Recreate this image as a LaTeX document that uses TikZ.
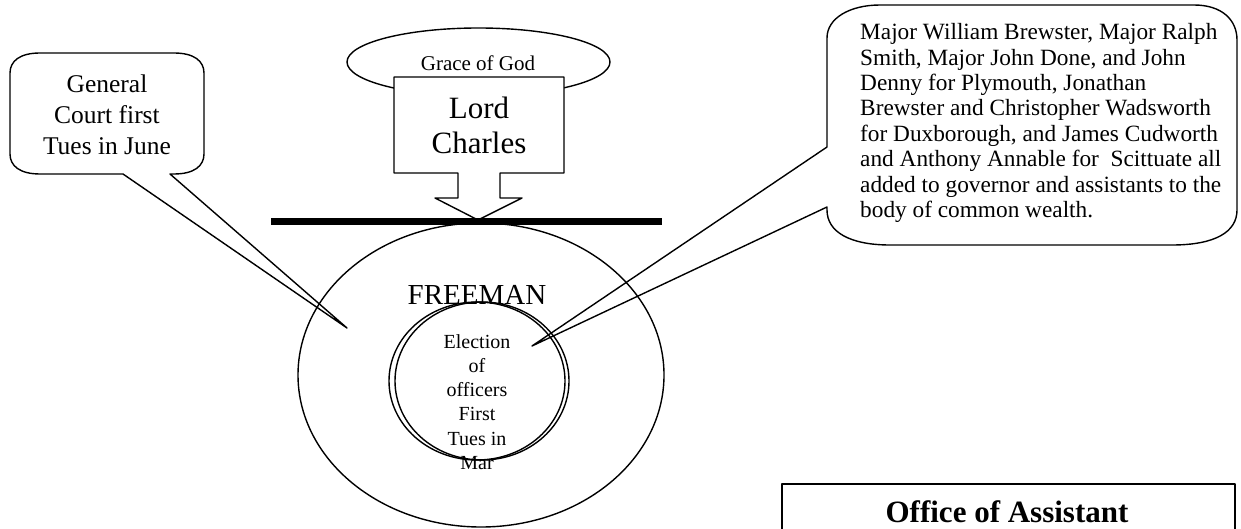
\documentclass[tikz,border=0pt]{standalone}
\usepackage{fontspec}
\setmainfont{Liberation Serif}
\usetikzlibrary{shapes.geometric}
\begin{document}
\begin{tikzpicture}[x=1pt,y=-1pt,line join=round,
  shapeline/.style={line width=1.4pt},
  ell/.style={ellipse,draw,line width=1.4pt,inner sep=0pt},
  txt/.style={inner sep=0pt,align=center}]
\useasboundingbox (0,0) rectangle (1241,529);
\clip (0,0) rectangle (1241,529);

% outer ellipse and inner circles
\node[ell,minimum width=366pt,minimum height=304pt] (freemanell) at (481,375) {};
\node[txt,font=\fontsize{29}{32}\selectfont] (freeman) at (477,295) {FREEMAN};
\node[ell,minimum width=176pt,minimum height=158pt] (inner1) at (477,381) {};
\node[ell,minimum width=174pt,minimum height=158pt] (inner2) at (482,381) {};
\node[txt,font=\fontsize{20}{24.2}\selectfont] (election) at (477,402)
  {Election\\of\\officers\\First\\Tues in\\Mar};

% Grace of God ellipse
\node[ell,minimum width=263pt,minimum height=68pt] (grace) at (478.5,62) {};
\node[txt,font=\fontsize{21}{24}\selectfont] (gracet) at (478,63) {Grace of God};

% Lord Charles arrow box
\coordinate (lctip) at (478,220);
\draw[shapeline,fill=white] (394,77) -- (564,77) -- (564,173) -- (500,173) -- (500,198)
  -- (522,198) -- (lctip) -- (435,198) -- (458,198) -- (458,173) -- (394,173) -- cycle;
\node[txt,font=\fontsize{31}{35}\selectfont] (lord) at (479,125) {Lord\\Charles};

% bar
\coordinate (barL) at (271,221.5);
\coordinate (barR) at (662,221.5);
\draw[line width=7pt] (barL) -- (barR);

% left callout
\coordinate (gctip) at (347,328);
\draw[shapeline] (10,73) .. controls (10,61) and (20,53) .. (40,53) -- (174,53)
  .. controls (194,53) and (204,61) .. (204,73) -- (204,154)
  .. controls (204,166) and (194,174) .. (174,174) -- (170,174) -- (gctip) -- (123,174)
  -- (40,174) .. controls (20,174) and (10,166) .. (10,154) -- cycle;
\node[txt,font=\fontsize{25.5}{31}\selectfont] (gc) at (107,115)
  {General\\Court first\\Tues in June};

% right callout
\coordinate (ertip) at (532,346);
\draw[shapeline] (827,38) .. controls (827,18) and (850,5) .. (880,5) -- (1194,5)
  .. controls (1222,5) and (1237,20) .. (1237,40) -- (1237,210)
  .. controls (1237,232) and (1215,245) .. (1172,245) -- (890,245)
  .. controls (850,245) and (827,232) .. (827,210) -- (827,207) -- (ertip)
  -- (827,147) -- cycle;
\node[txt,align=left,anchor=west,font=\fontsize{23.3}{25.4}\selectfont] (names) at (860,123)
  {Major William Brewster, Major Ralph\\
   Smith, Major John Done, and John\\
   Denny for Plymouth, Jonathan\\
   Brewster and Christopher Wadsworth\\
   for Duxborough, and James Cudworth\\
   and Anthony Annable for\ \ Scittuate all\\
   added to governor and assistants to the\\
   body of common wealth.};

% Office of Assistant
\draw[shapeline] (782,484) rectangle (1235,560);
\node[txt,anchor=base,font=\bfseries\fontsize{31}{34}\selectfont] (office) at (1007,522)
  {Office of Assistant};
\end{tikzpicture}
\end{document}
